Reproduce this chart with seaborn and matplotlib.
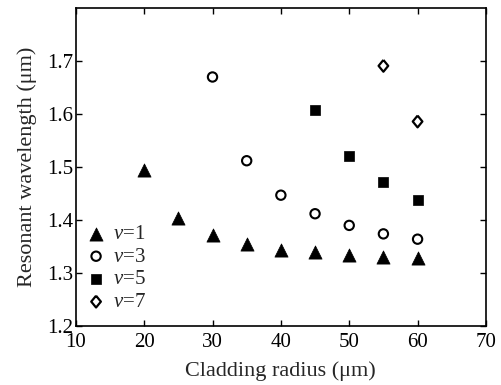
import matplotlib
matplotlib.use("Agg")
import matplotlib.pyplot as plt
import seaborn as sns
import pandas as pd

# Data
x_v1 = [20, 25, 30, 35, 40, 45, 50, 55, 60]
y_v1 = [1.495, 1.404, 1.371, 1.355, 1.344, 1.339, 1.335, 1.330, 1.328]
x_v3 = [30, 35, 40, 45, 50, 55, 60]
y_v3 = [1.670, 1.512, 1.447, 1.412, 1.390, 1.374, 1.364]
x_v5 = [45, 50, 55, 60]
y_v5 = [1.608, 1.520, 1.471, 1.437]
x_v7 = [55, 60]
y_v7 = [1.691, 1.586]
labels = ["1", "3", "5", "7"]
x_ticks = [10, 20, 30, 40, 50, 60, 70]
y_ticks = [1.2, 1.3, 1.4, 1.5, 1.6, 1.7]

sns.set_style("ticks")
plt.rcParams["font.family"] = ["Liberation Serif", "DejaVu Serif"]
plt.rcParams["mathtext.fontset"] = "custom"
plt.rcParams["mathtext.it"] = "Liberation Serif:italic"
plt.rcParams["mathtext.rm"] = "Liberation Serif"

FS = 15
LFS = 16

diamond = [(0, 1), (0.82, 0), (0, -1), (-0.82, 0), (0, 1)]

fig = plt.figure(figsize=(5.02, 3.85), dpi=100)
ax = fig.add_axes([0.151, 0.153, 0.817, 0.826])

specs = [
    (x_v1, y_v1, "^", "black", 90, 0.5),
    (x_v3, y_v3, "o", "none", 45, 1.5),
    (x_v5, y_v5, "s", "black", 60, 0.5),
    (x_v7, y_v7, diamond, "none", 72, 1.6),
]
for (xs, ys, m, fc, s, lw), lab in zip(specs, labels):
    df = pd.DataFrame({"x": xs, "y": ys})
    sns.scatterplot(data=df, x="x", y="y", ax=ax, marker=m, s=s,
                    facecolor=fc, edgecolor="black", linewidth=lw,
                    label=r"$v$=" + lab)

ax.set_xlim(10, 70)
ax.set_ylim(1.2, 1.8)
ax.set_xticks(x_ticks)
ax.set_yticks(y_ticks)
ax.set_xticklabels([str(t) for t in x_ticks])
ax.set_yticklabels([f"{t:.1f}" for t in y_ticks])
ax.tick_params(direction="in", top=True, right=True, length=4, width=1,
               labelsize=FS, colors="black", pad=2)
ax.tick_params(axis="x", pad=5)
for sp in ax.spines.values():
    sp.set_visible(True)
    sp.set_linewidth(1.2)
    sp.set_color("black")
ax.set_xlabel("Cladding radius (μm)", fontsize=LFS, labelpad=7)
ax.set_ylabel("Resonant wavelength (μm)", fontsize=LFS, labelpad=7)

leg = ax.legend(loc="lower left", bbox_to_anchor=(0.024, 0.044), frameon=False,
                fontsize=FS, handletextpad=0.3, labelspacing=0.15,
                borderpad=0, borderaxespad=0, handlelength=1.0)

fig.savefig("out.png", dpi=100)
